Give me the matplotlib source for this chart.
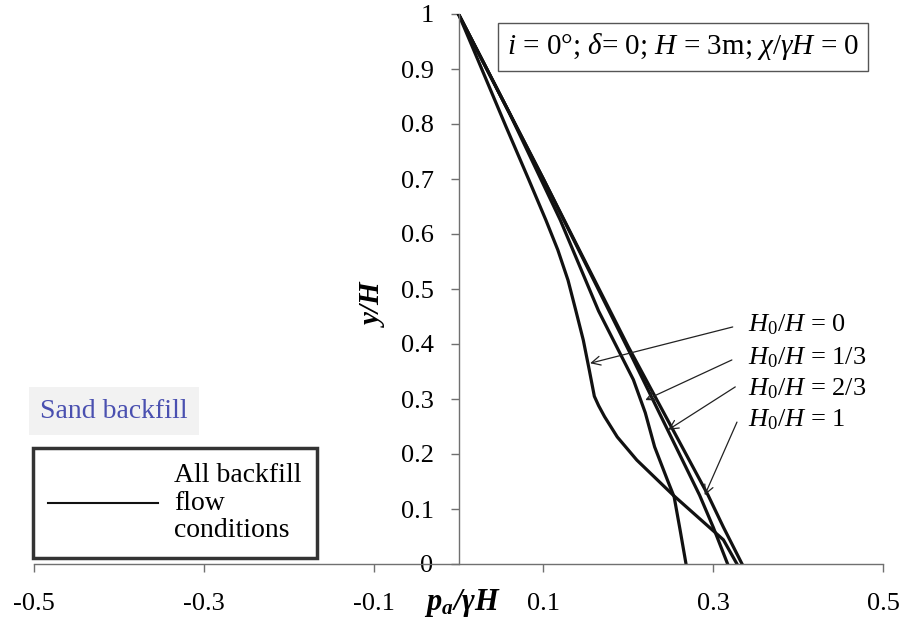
import matplotlib
matplotlib.use("Agg")
import matplotlib.pyplot as plt

plt.rcParams['font.family'] = 'Liberation Serif'
plt.rcParams['mathtext.fontset'] = 'custom'
plt.rcParams['mathtext.rm'] = 'Liberation Serif'
plt.rcParams['mathtext.it'] = 'Liberation Serif:italic'
plt.rcParams['mathtext.bf'] = 'Liberation Serif:bold:italic'

# earth pressure profiles p_a/(gamma H) against y/H, one per seepage level H0/H
h00_x = [0, 0.023, 0.056, 0.083, 0.103, 0.117, 0.129, 0.138, 0.147, 0.154, 0.160, 0.165, 0.172, 0.187, 0.210, 0.253, 0.312, 0.328]
h00_y = [1, 0.916, 0.795, 0.698, 0.625, 0.571, 0.516, 0.462, 0.407, 0.353, 0.305, 0.288, 0.268, 0.231, 0.189, 0.125, 0.044, 0]

h013_x = [0, 0.06, 0.12, 0.165, 0.206, 0.220, 0.231, 0.246, 0.254, 0.261, 0.268]
h013_y = [1, 0.82, 0.625, 0.46, 0.335, 0.275, 0.213, 0.153, 0.122, 0.062, 0]

h023_x = [0, 0.10, 0.20, 0.294, 0.312, 0.334]
h023_y = [1, 0.70, 0.395, 0.125, 0.067, 0]

h01_x = [0, 0.10, 0.20, 0.284, 0.300, 0.317]
h01_y = [1, 0.70, 0.39, 0.125, 0.067, 0]

x_ticks = [-0.5, -0.3, -0.1, 0.1, 0.3, 0.5]
y_ticks = [0, 0.1, 0.2, 0.3, 0.4, 0.5, 0.6, 0.7, 0.8, 0.9, 1]
y_ticklabels = ['0', '0.1', '0.2', '0.3', '0.4', '0.5', '0.6', '0.7', '0.8', '0.9', '1']

# label text, label position, arrow tail, arrow head
callouts = [
    (r'$H_{\mathit{0}}/H$ = 0', (0.341, 0.435), (0.323, 0.431), (0.155, 0.365)),
    (r'$H_{\mathit{0}}/H$ = 1/3', (0.341, 0.375), (0.322, 0.371), (0.220, 0.298)),
    (r'$H_{\mathit{0}}/H$ = 2/3', (0.341, 0.318), (0.326, 0.322), (0.247, 0.244)),
    (r'$H_{\mathit{0}}/H$ = 1', (0.341, 0.262), (0.328, 0.258), (0.290, 0.125)),
]

fig = plt.figure(figsize=(9.13, 6.19), dpi=100)
ax = fig.add_axes([34 / 913, 1 - 564 / 619, 849 / 913, 550 / 619])

lw = 2.3
ax.plot(h00_x, h00_y, color='#111111', lw=lw, label='All backfill\nflow\nconditions')
ax.plot(h013_x, h013_y, color='#111111', lw=lw)
ax.plot(h023_x, h023_y, color='#111111', lw=lw)
ax.plot(h01_x, h01_y, color='#111111', lw=lw)

ax.set_xlim(-0.5, 0.5)
ax.set_ylim(0, 1)

ax.spines['left'].set_position(('data', 0))
ax.spines['top'].set_visible(False)
ax.spines['right'].set_visible(False)
for s in ('left', 'bottom'):
    ax.spines[s].set_color('#707070')
    ax.spines[s].set_linewidth(1.0)

ax.set_xticks(x_ticks)
ax.set_xticklabels([f'{v:g}' for v in x_ticks])
ax.set_yticks(y_ticks)
ax.set_yticklabels(y_ticklabels)
ax.tick_params(axis='x', direction='out', length=6, width=1, color='#707070', pad=15, labelsize=19)
ax.tick_params(axis='y', direction='out', length=6, width=1, color='#707070', pad=12, labelsize=19)

ax.text(-0.0995, 0.471, 'y/H', rotation=90, ha='center', va='center', fontsize=21,
        fontweight='bold', fontstyle='italic')
ax.text(0.004, -0.071, r'$\mathbf{p_a/\gamma H}$', ha='center', va='center', fontsize=22,
        clip_on=False)

ax.text(0.057, 0.94, r'$i$ = 0°; $\delta$= 0; $H$ = 3m; $\chi/\gamma H$ = 0', fontsize=21,
        ha='left', va='center',
        bbox=dict(boxstyle='square,pad=0.3', fc='white', ec='#555555', lw=1.0))

for txt, pos, tail, head in callouts:
    ax.text(pos[0], pos[1], txt, fontsize=19, ha='left', va='center')
    ax.annotate('', xy=head, xytext=tail,
                arrowprops=dict(arrowstyle='->', color='#222222', lw=0.9,
                                shrinkA=0, shrinkB=0, mutation_scale=16))

fig.text(40 / 913, 1 - 411 / 619, 'Sand backfill', color='#4a50b0', fontsize=20,
         ha='left', va='center',
         bbox=dict(boxstyle='square,pad=0.4', fc='#f2f2f2', ec='none'))

leg = ax.legend(loc='upper left', bbox_to_anchor=(33 / 913, 1 - 448 / 619),
                bbox_transform=fig.transFigure, fontsize=20, frameon=True, fancybox=False,
                handlelength=3.95, handletextpad=0.58, borderpad=0.55, borderaxespad=0,
                labelspacing=0.2)
leg.get_frame().set_edgecolor('black')
leg.get_frame().set_linewidth(2.5)
for t in leg.get_texts():
    t.set_linespacing(1.12)
for line in leg.get_lines():
    line.set_linewidth(1.5)

fig.savefig('out.png', dpi=100)
